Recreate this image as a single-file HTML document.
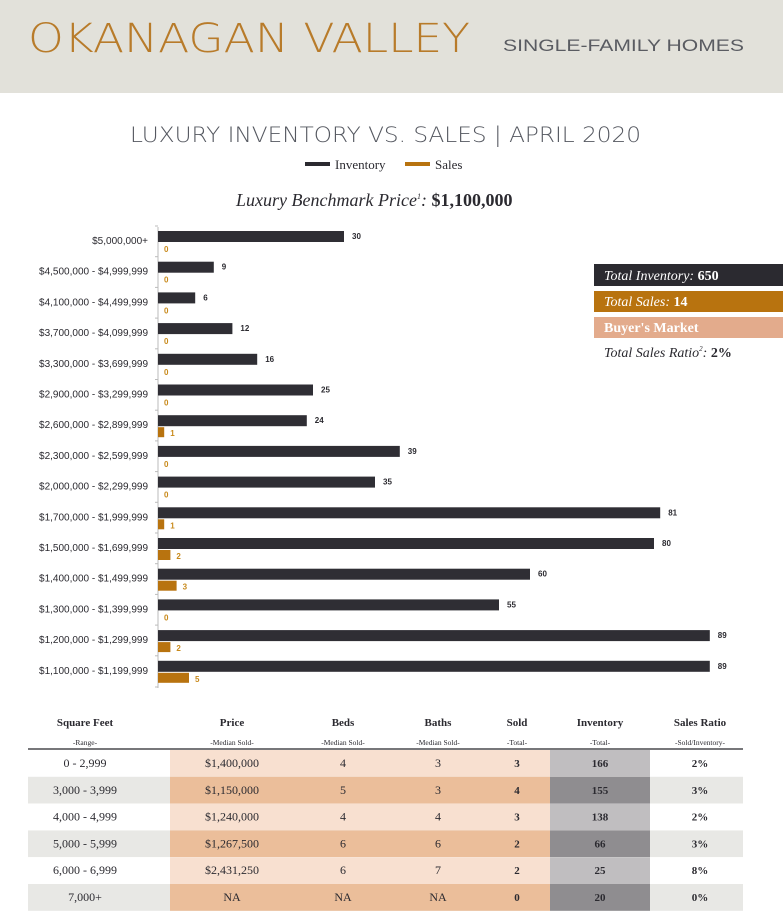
<!DOCTYPE html>
<html><head><meta charset="utf-8"><style>
html,body{margin:0;padding:0;background:#fff;}
svg{display:block;}
text{font-family:"Liberation Sans",sans-serif;}
.s{font-family:"Liberation Serif",serif;}
.thin{font-family:"DejaVu Sans ExtraLight","DejaVu Sans","Liberation Sans",sans-serif;font-weight:200;}
</style></head><body>
<svg width="783" height="916" viewBox="0 0 783 916" xmlns="http://www.w3.org/2000/svg">
<rect x="0" y="0" width="783" height="93" fill="#e2e1da"/>
<text x="28" y="52" font-size="40" fill="#b87b2a" class="thin" textLength="442" lengthAdjust="spacingAndGlyphs">OKANAGAN VALLEY</text>
<text x="503" y="51" font-size="17" fill="#5a5c62" textLength="241" lengthAdjust="spacingAndGlyphs">SINGLE-FAMILY HOMES</text>
<text x="130" y="142" font-size="21" fill="#555860" class="thin" textLength="511" lengthAdjust="spacingAndGlyphs">LUXURY INVENTORY VS. SALES | APRIL 2020</text>
<rect x="305" y="162" width="25" height="4" fill="#2b2a30"/>
<text x="335" y="169" class="s" font-size="13" fill="#2b2a30">Inventory</text>
<rect x="405" y="162" width="25" height="4" fill="#b8730f"/>
<text x="435" y="169" class="s" font-size="13" fill="#2b2a30">Sales</text>
<text x="236" y="206" class="s" font-size="18" fill="#2b2a30" font-style="italic">Luxury Benchmark Price<tspan font-size="8" dy="-7">1</tspan><tspan dy="7">: </tspan><tspan font-weight="bold" font-style="normal">$1,100,000</tspan></text>
<g id="chart"></g>
<rect x="594" y="264" width="189" height="22" fill="#2b2a30"/>
<text x="604" y="280" class="s" font-size="14" fill="#fff" font-style="italic">Total Inventory: <tspan font-weight="bold" font-style="normal">650</tspan></text>
<rect x="594" y="291" width="189" height="21" fill="#b8730f"/>
<text x="604" y="306" class="s" font-size="14" fill="#fff" font-style="italic">Total Sales: <tspan font-weight="bold" font-style="normal">14</tspan></text>
<rect x="594" y="317" width="189" height="21" fill="#e3ab8c"/>
<text x="604" y="332" class="s" font-size="14" fill="#fff" font-weight="bold">Buyer's Market</text>
<text x="604" y="357" class="s" font-size="14" fill="#2b2a30" font-style="italic">Total Sales Ratio<tspan font-size="7" dy="-6">2</tspan><tspan dy="6">: </tspan><tspan font-weight="bold" font-style="normal">2%</tspan></text>
<g id="table"></g>
</svg>
<script>
var ns="http://www.w3.org/2000/svg";
function el(p,t,a,txt){var e=document.createElementNS(ns,t);for(var k in a)e.setAttribute(k,a[k]);if(txt!=null)e.textContent=txt;p.appendChild(e);return e;}
var c=document.getElementById('chart');
var labels=["$5,000,000+","$4,500,000 - $4,999,999","$4,100,000 - $4,499,999","$3,700,000 - $4,099,999","$3,300,000 - $3,699,999","$2,900,000 - $3,299,999","$2,600,000 - $2,899,999","$2,300,000 - $2,599,999","$2,000,000 - $2,299,999","$1,700,000 - $1,999,999","$1,500,000 - $1,699,999","$1,400,000 - $1,499,999","$1,300,000 - $1,399,999","$1,200,000 - $1,299,999","$1,100,000 - $1,199,999"];
var inv=[30,9,6,12,16,25,24,39,35,81,80,60,55,89,89],sal=[0,0,0,0,0,0,1,0,0,1,2,3,0,2,5];
var X=158,k=6.2;
el(c,'line',{x1:X,y1:227,x2:X,y2:688,stroke:'#bbb','stroke-width':1});
for(var i=0;i<15;i++){
 var y=241+i*30.7;
 el(c,'line',{x1:X-3,y1:y-15,x2:X,y2:y-15,stroke:'#bbb'});
 el(c,'text',{x:148,y:y+3,'font-size':10,'text-anchor':'end',fill:'#2b2a30'},labels[i]);
 var w=inv[i]*k;
 el(c,'rect',{x:X,y:y-10,width:w,height:11,fill:'#2f2e34'});
 el(c,'text',{x:X+w+8,y:y-2,'font-size':8,'font-weight':'bold',fill:'#2b2a30'},inv[i]);
 var sw=sal[i]*k;
 if(sw>0)el(c,'rect',{x:X,y:y+2,width:sw,height:10,fill:'#b8730f'});
 el(c,'text',{x:X+sw+6,y:y+11,'font-size':8,'font-weight':'bold',fill:'#c8891a'},sal[i]);
}
el(c,'line',{x1:X-3,y1:687,x2:X,y2:687,stroke:'#bbb'});
var t=document.getElementById('table');
var cx=[85,232,343,438,517,600,700];
var h1=["Square Feet","Price","Beds","Baths","Sold","Inventory","Sales Ratio"];
var h2=["-Range-","-Median Sold-","-Median Sold-","-Median Sold-","-Total-","-Total-","-Sold/Inventory-"];
var rows=[["0 - 2,999","$1,400,000","4","3","3","166","2%"],["3,000 - 3,999","$1,150,000","5","3","4","155","3%"],["4,000 - 4,999","$1,240,000","4","4","3","138","2%"],["5,000 - 5,999","$1,267,500","6","6","2","66","3%"],["6,000 - 6,999","$2,431,250","6","7","2","25","8%"],["7,000+","NA","NA","NA","0","20","0%"]];
for(var j=0;j<7;j++){
 el(t,'text',{x:cx[j],y:726,'font-size':11,'font-weight':'bold','text-anchor':'middle',class:'s',fill:'#2b2a30'},h1[j]);
 el(t,'text',{x:cx[j],y:745,'font-size':7.5,'text-anchor':'middle',class:'s',fill:'#2b2a30'},h2[j]);
}
for(var r=0;r<6;r++){
 var y0=750+r*26.8,alt=r%2==1;
 el(t,'rect',{x:28,y:y0,width:715,height:26.8,fill:alt?'#e8e8e5':'#ffffff'});
 el(t,'rect',{x:170,y:y0,width:380,height:26.8,fill:alt?'#ebbe9a':'#f8e0d0'});
 el(t,'rect',{x:550,y:y0,width:100,height:26.8,fill:alt?'#8f8d90':'#c0bec0'});
 for(var j=0;j<7;j++){
  var b=j>=4;
  el(t,'text',{x:cx[j],y:y0+17,'font-size':b?11:12,'font-weight':b?'bold':'normal','text-anchor':'middle',class:'s',fill:'#2b2a30'},rows[r][j]);
 }
}
el(t,'rect',{x:28,y:748,width:715,height:2,fill:'#77777a'});
</script>
</body></html>
